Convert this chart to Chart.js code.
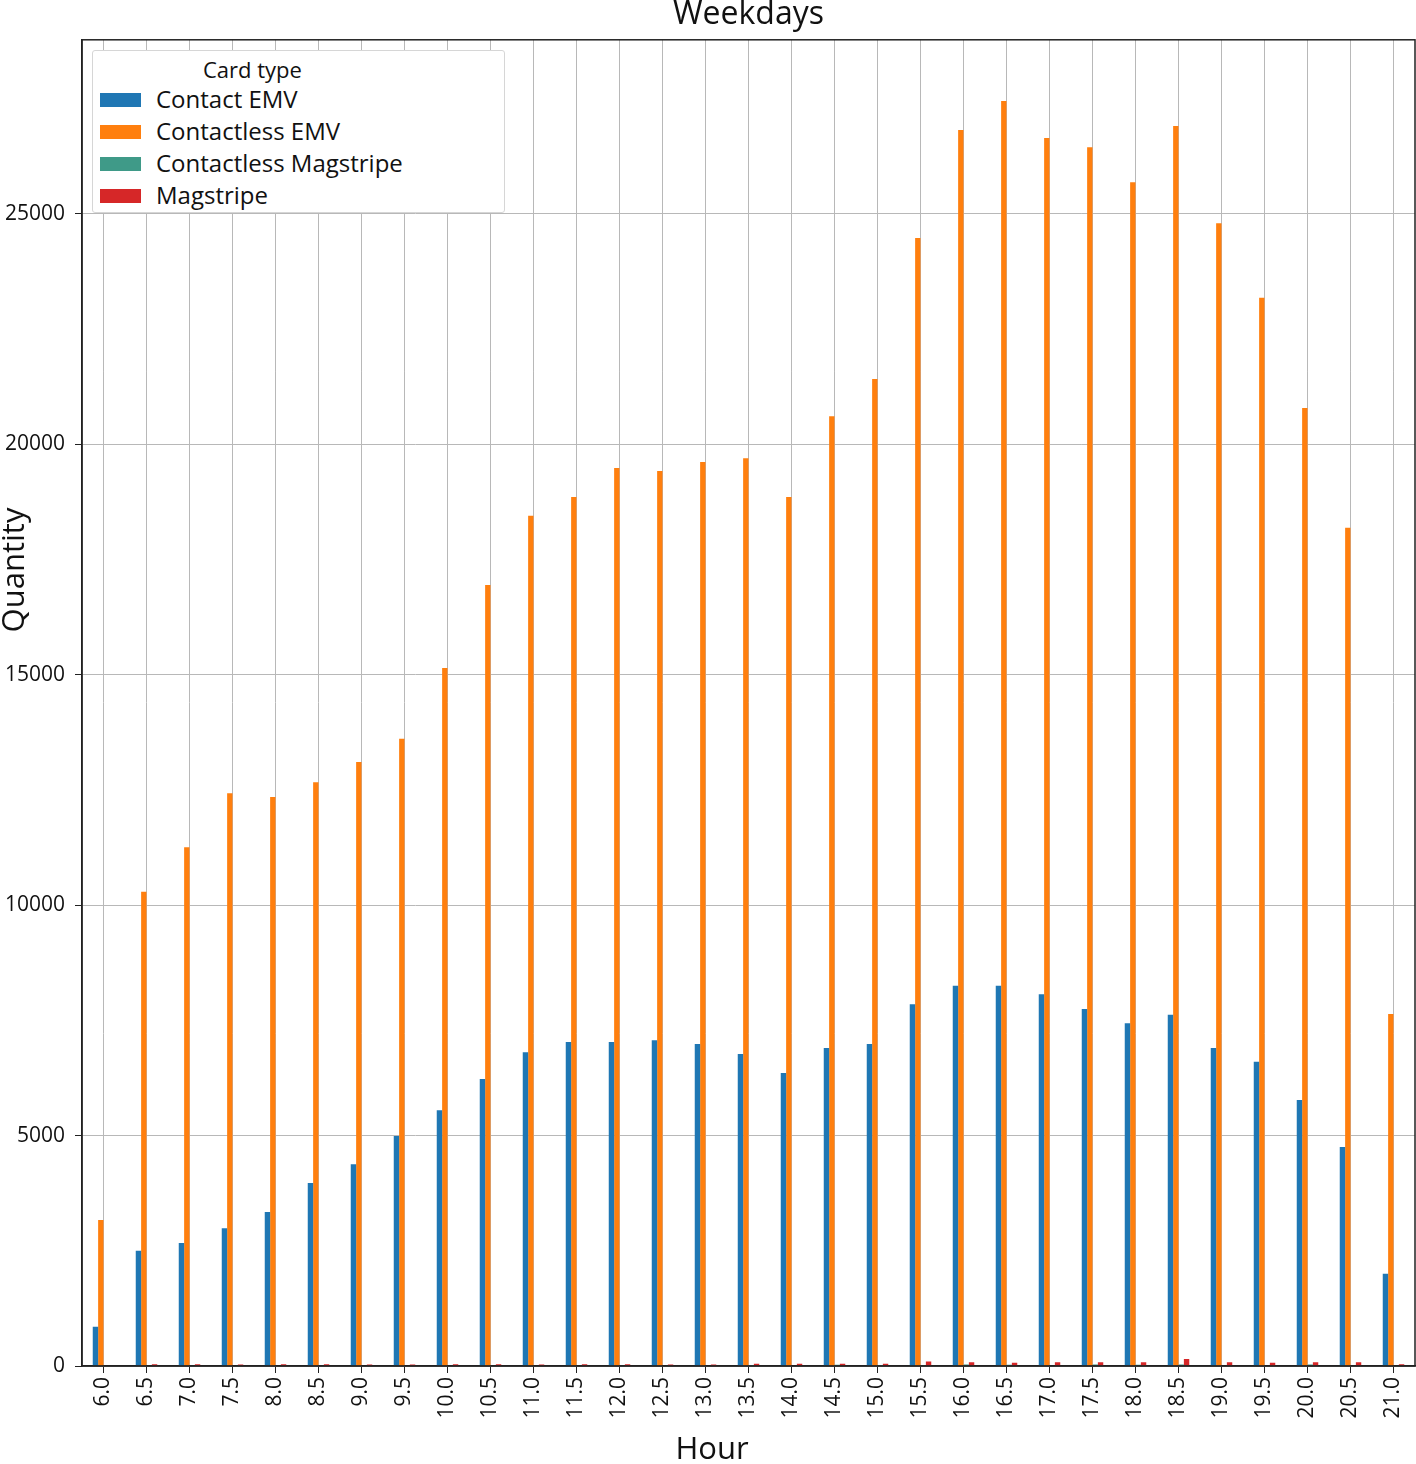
<!DOCTYPE html>
<html>
<head>
<meta charset="utf-8">
<script src="https://cdn.jsdelivr.net/npm/chart.js@4/dist/chart.umd.min.js"></script>
<style>
  body { margin: 0; background: #fff; }
  #wrap { position: relative; width: 1416px; height: 1464px; }
  #legend {
    position: absolute; left: 92px; top: 50px; width: 411px; height: 161px;
    background: #fff; border: 1px solid #d6d6d6; border-radius: 3px;
    font-family: "Open Sans", sans-serif; color: #111;
  }
  #legend .ttl { position: absolute; top: 3px; left: 110px; font-size: 22px; }
  #legend .row { position: absolute; left: 7px; height: 30px; font-size: 24px; line-height: 30px; white-space: nowrap; }
  #legend .sw { display: inline-block; width: 41px; height: 14px; vertical-align: middle; margin-right: 15px; margin-top: -3px; }
</style>
</head>
<body>
<div id="wrap">
  <canvas id="weekdayChart" width="1416" height="1464"></canvas>
  <div id="legend"></div>
</div>
<script>
// Hours of the day (half-hour bins)
const hours = ['6.0','6.5','7.0','7.5','8.0','8.5','9.0','9.5','10.0','10.5','11.0','11.5','12.0','12.5','13.0','13.5',
               '14.0','14.5','15.0','15.5','16.0','16.5','17.0','17.5','18.0','18.5','19.0','19.5','20.0','20.5','21.0'];

// Transaction counts per card type
const contactEMV = [850, 2500, 2670, 2990, 3340, 3970, 4380, 4990, 5550, 6230, 6810, 7030, 7030, 7070, 6990, 6770,
                    6360, 6900, 6990, 7850, 8250, 8250, 8070, 7750, 7440, 7620, 6900, 6600, 5770, 4750, 2000];
const contactlessEMV = [3170, 10290, 11260, 12430, 12350, 12670, 13110, 13610, 15150, 16950, 18450, 18860, 19490, 19420, 19620, 19700,
                        18860, 20610, 21420, 24480, 26820, 27450, 26650, 26450, 25690, 26910, 24800, 23180, 20790, 18190, 7640];
const contactlessMagstripe = [0, 0, 0, 0, 0, 0, 0, 0, 0, 0, 0, 0, 0, 0, 0, 20,
                              0, 25, 20, 15, 30, 25, 0, 30, 25, 30, 0, 0, 30, 10, 0];
const magstripe = [0, 40, 40, 30, 40, 40, 30, 30, 40, 40, 30, 40, 40, 30, 30, 50,
                   50, 50, 50, 100, 80, 70, 80, 80, 80, 150, 80, 70, 80, 80, 40];

const seriesNames = ['Contact EMV', 'Contactless EMV', 'Contactless Magstripe', 'Magstripe'];
const seriesColors = ['#1f77b4', '#ff7f0e', '#3f9a88', '#d62728'];
const yTicks = [0, 5000, 10000, 15000, 20000, 25000];

const FONT = '"Open Sans", sans-serif';

// Frame around the plot plus axis titles placed like the original
const framePlugin = {
  id: 'frame',
  afterDraw(chart) {
    const { ctx, chartArea: a } = chart;
    ctx.save();
    ctx.strokeStyle = '#222';
    ctx.lineWidth = 1.5;
    ctx.strokeRect(a.left, a.top, a.right - a.left, a.bottom - a.top);
    ctx.fillStyle = '#111';
    ctx.font = '31px ' + FONT;
    ctx.textAlign = 'center';
    ctx.textBaseline = 'middle';
    ctx.fillText('Hour', 712, 1450);
    ctx.translate(15, 570);
    ctx.rotate(-Math.PI / 2);
    ctx.fillText('Quantity', 0, 0);
    ctx.restore();
  }
};

const datasets = [contactEMV, contactlessEMV, contactlessMagstripe, magstripe].map((d, i) => ({
  label: seriesNames[i],
  data: d,
  backgroundColor: seriesColors[i],
  borderWidth: 0,
  categoryPercentage: 0.5,
  barPercentage: 1.0
}));

const ctx = document.getElementById('weekdayChart').getContext('2d');
new Chart(ctx, {
  type: 'bar',
  data: { labels: hours, datasets: datasets },
  options: {
    responsive: false,
    animation: false,
    devicePixelRatio: 1,
    layout: { padding: { left: 0, right: 1, top: 0, bottom: 0 } },
    plugins: {
      legend: { display: false },
      tooltip: { enabled: false },
      title: {
        display: true,
        text: 'Weekdays',
        fullSize: false,
        color: '#111',
        font: { family: FONT, size: 32, weight: 'normal', lineHeight: 0.9 },
        padding: { top: 0, bottom: 11 }
      }
    },
    scales: {
      x: {
        grid: { offset: false, color: '#b8b8b8', lineWidth: 1, tickColor: '#222', tickLength: 7 },
        border: { color: '#222', width: 1.5 },
        ticks: {
          color: '#111', minRotation: 90, maxRotation: 90, autoSkip: false, padding: 4,
          font: { family: FONT, size: 21 }
        },
        afterFit(scale) {
          scale.height = 98;
          scale.paddingLeft = 0;
          scale.paddingRight = 0;
        }
      },
      y: {
        min: 0,
        max: 28780,
        grid: { color: '#b8b8b8', lineWidth: 1, tickColor: '#222', tickLength: 7 },
        border: { color: '#222', width: 1.5 },
        ticks: {
          color: '#111', padding: 10,
          font: { family: FONT, size: 21 },
          callback: v => String(v)
        },
        afterBuildTicks(scale) { scale.ticks = yTicks.map(v => ({ value: v })); },
        afterFit(scale) { scale.width = 82; }
      }
    }
  },
  plugins: [framePlugin]
});

// Legend box inside the plot
const legend = document.getElementById('legend');
legend.innerHTML = '<div class="ttl">Card type</div>' + seriesNames.map((n, i) =>
  `<div class="row" style="top:${33 + i * 32}px"><span class="sw" style="background:${seriesColors[i]}"></span>${n}</div>`
).join('');
</script>
</body>
</html>
